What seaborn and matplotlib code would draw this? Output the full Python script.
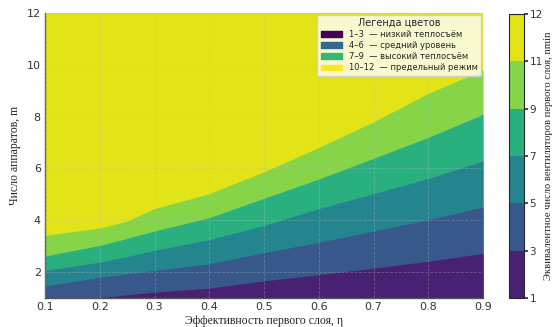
import numpy as np
import seaborn as sns
import matplotlib.pyplot as plt
from matplotlib.colors import ListedColormap, BoundaryNorm, Normalize
from matplotlib.cm import ScalarMappable
from matplotlib.patches import Patch

eta = [0.1, 0.2, 0.25, 0.3, 0.4, 0.5, 0.6, 0.7, 0.8, 0.9]

# m at which the equivalent fan count reaches each contour level
m_at_3 = [0.90, 1.02, 1.12, 1.23, 1.38, 1.66, 1.90, 2.15, 2.42, 2.72]
m_at_5 = [1.46, 1.80, 1.93, 2.07, 2.32, 2.75, 3.15, 3.58, 4.02, 4.51]
m_at_7 = [2.07, 2.38, 2.60, 2.84, 3.25, 3.80, 4.45, 5.03, 5.61, 6.29]
m_at_9 = [2.62, 3.03, 3.30, 3.59, 4.10, 4.85, 5.59, 6.39, 7.20, 8.09]
m_at_11 = [3.42, 3.70, 3.97, 4.45, 5.03, 5.87, 6.81, 7.80, 8.90, 9.80]

levels = [1, 3, 5, 7, 9, 11, 12]

legend_labels = ['1–3  — низкий теплосъём',
                 '4–6  — средний уровень',
                 '7–9  — высокий теплосъём',
                 '10–12  — предельный режим']

sns.set_theme(style="white")
plt.rcParams['font.family'] = ['DejaVu Sans']

fig = plt.figure(figsize=(5.54, 3.27), dpi=100)
ax = fig.add_axes([45/554, 1 - 298/327, 438/554, 285/327])
cax = fig.add_axes([509/554, 1 - 298/327, 15/554, 284/327])

cmap = sns.color_palette("viridis", as_cmap=True)
norm = Normalize(1, 12)
mids = [(a + b) / 2 for a, b in zip(levels[:-1], levels[1:])]
band_colors = [cmap(norm(v)) for v in mids]

# stack the bands from the top down so no seams show
tops = [np.full(len(eta), 12.0), m_at_11, m_at_9, m_at_7, m_at_5, m_at_3]
for top, c in zip(tops, band_colors[::-1]):
    ax.fill_between(eta, 0, top, color=c, linewidth=0, zorder=1)

ax.set_xlim(0.1, 0.9)
ax.set_ylim(1, 12)
ax.set_xticks([0.1, 0.2, 0.3, 0.4, 0.5, 0.6, 0.7, 0.8, 0.9])
ax.set_yticks([2, 4, 6, 8, 10, 12])
ax.set_axisbelow(False)
ax.grid(True, linestyle='--', linewidth=0.6, color='#bbbbbb', alpha=0.35)
ax.tick_params(direction='in', length=3, labelsize=8, colors='#333333', pad=3)
for s in ['top', 'right']:
    ax.spines[s].set_visible(False)
for s in ['left', 'bottom']:
    ax.spines[s].set_color('#555555')
    ax.spines[s].set_linewidth(1.0)

ax.set_xlabel('Эффективность первого слоя, η', family='Liberation Serif', fontsize=8.5, labelpad=2)
ax.set_ylabel('Число аппаратов, m', family='Liberation Serif', fontsize=8.5, labelpad=4)

handles = [Patch(color=c) for c in ['#440154', '#31688e', '#35b779', '#fde725']]
leg = ax.legend(handles, legend_labels, title='Легенда цветов', loc='upper right',
                fontsize=6, title_fontsize=7, frameon=True, framealpha=0.8,
                borderaxespad=0.2, handlelength=2.6, handleheight=0.7,
                labelspacing=0.25, borderpad=0.4, edgecolor='#cccccc', fancybox=True)

sm = ScalarMappable(norm=BoundaryNorm(levels, len(band_colors)), cmap=ListedColormap(band_colors))
cb = fig.colorbar(sm, cax=cax, ticks=levels, spacing='uniform')
cb.ax.tick_params(labelsize=7.5, length=3, pad=1, colors='#333333')
cb.outline.set_linewidth(0.8)
cb.set_label('Эквивалентное число вентиляторов первого слоя, nmin',
             family='Liberation Serif', fontsize=7.6, labelpad=1)

fig.savefig('out.png', dpi=100)
